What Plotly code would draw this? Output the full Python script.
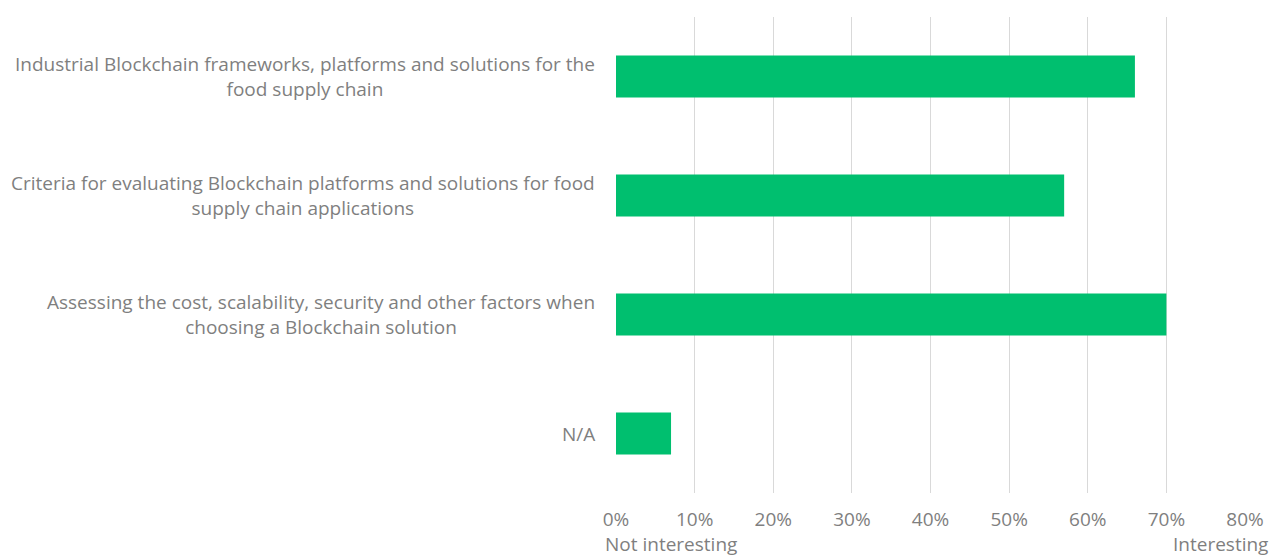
import plotly.graph_objects as go

categories = [
    "Industrial Blockchain frameworks, platforms and solutions for the<br>food supply chain",
    "Criteria for evaluating Blockchain platforms and solutions for food<br>supply chain applications",
    "Assessing the cost, scalability, security and other factors when<br>choosing a Blockchain solution",
    "N/A",
]
values = [66, 57, 70, 7]
tick_vals = [0, 10, 20, 30, 40, 50, 60, 70, 80]
tick_text = ["0%", "10%", "20%", "30%", "40%", "50%", "60%", "70%", "80%"]

GREEN = "#00BF6F"
TEXT = "#7F7F7F"
FONT = "Open Sans"
SIZE = 19

fig = go.Figure(
    go.Bar(
        x=values,
        y=categories,
        orientation="h",
        marker=dict(color=GREEN, line=dict(width=0)),
        hoverinfo="x+y",
    )
)

# Category labels drawn as centred multi-line text to the left of the plot
annotations = [
    dict(
        x=0, y=c, xref="paper", yref="y", text=c, showarrow=False,
        xanchor="right", yanchor="middle", align="center", xshift=-19,
        font=dict(family=FONT, size=SIZE, color=TEXT),
    )
    for c in categories
]
# Scale end captions under the x axis
annotations += [
    dict(x=0, y=0, xref="paper", yref="paper", text="Not interesting", showarrow=False,
         xanchor="center", yanchor="top", xshift=55, yshift=-36,
         font=dict(family=FONT, size=SIZE, color=TEXT)),
    dict(x=1, y=0, xref="paper", yref="paper", text="Interesting", showarrow=False,
         xanchor="right", yanchor="top", xshift=25, yshift=-36,
         font=dict(family=FONT, size=SIZE, color=TEXT)),
]

fig.update_layout(
    width=1271, height=559,
    margin=dict(l=616, r=26, t=17, b=66, autoexpand=False),
    paper_bgcolor="white", plot_bgcolor="white",
    showlegend=False,
    bargap=0.647,
    font=dict(family=FONT, size=SIZE, color=TEXT),
    annotations=annotations,
    xaxis=dict(
        range=[0, 80], tickvals=tick_vals, ticktext=tick_text,
        showgrid=True, gridcolor="#D9D9D9", gridwidth=1,
        zeroline=False, showline=False, ticks="", ticklabelstandoff=13,
        tickfont=dict(family=FONT, size=SIZE, color=TEXT),
        automargin=False,
    ),
    yaxis=dict(
        categoryorder="array", categoryarray=categories[::-1],
        showticklabels=False, showgrid=False, zeroline=False, showline=False,
        automargin=False,
    ),
)

fig.write_html("out.html")
